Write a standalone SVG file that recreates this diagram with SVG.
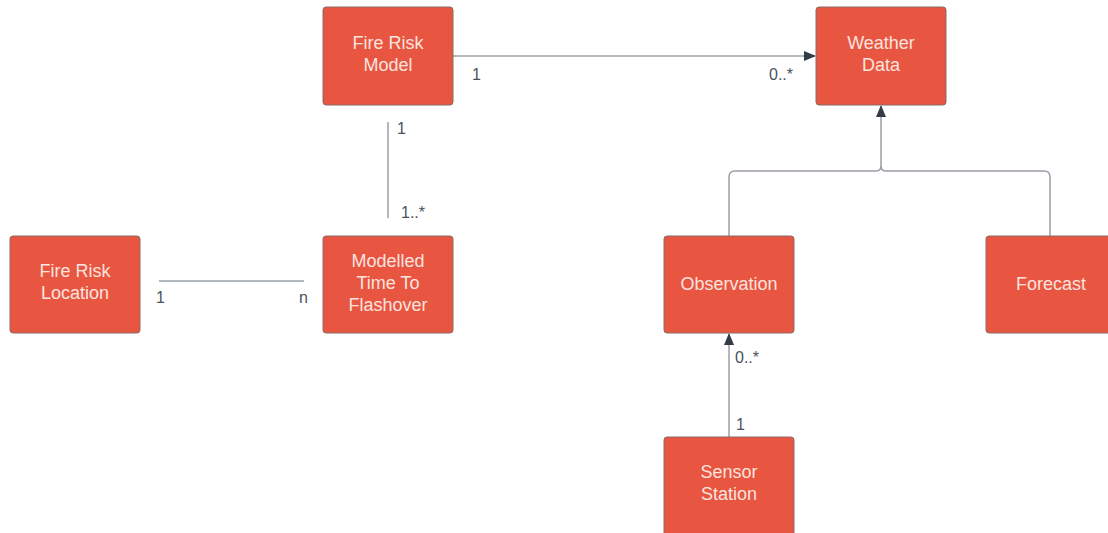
<svg xmlns="http://www.w3.org/2000/svg" width="1108" height="533" viewBox="0 0 1108 533">
<style>
.box{fill:#e85642;stroke:#8a6a66;stroke-width:1}
.t{font-family:"Liberation Sans",Arial,sans-serif;font-size:18px;fill:#fbe3df;text-anchor:middle}
.l{font-family:"Liberation Sans",Arial,sans-serif;font-size:16px;fill:#4a5260}
.c{fill:none;stroke:#9aa0a8;stroke-width:1.5}
</style>
<defs>
<marker id="arr" markerWidth="12" markerHeight="10" refX="11" refY="5" orient="auto" markerUnits="userSpaceOnUse">
<path d="M0,0 L12,5 L0,10 Z" fill="#333b47"/>
</marker>
</defs>
<rect width="1108" height="533" fill="#fff"/>
<g id="connectors">
<path class="c" d="M453,56 H815" marker-end="url(#arr)"/>
<path class="c" d="M388,122 V218"/>
<path class="c" d="M159,281 H304"/>
<path class="c" d="M729,236 V177 Q729,171 735,171 H876 Q881,171 881,166 V106" marker-end="url(#arr)"/>
<path class="c" d="M1050,236 V177 Q1050,171 1044,171 H886 Q881,171 881,166"/>
<path class="c" d="M729,437 V334" marker-end="url(#arr)"/>
<text class="l" x="472" y="80">1</text>
<text class="l" x="769" y="80">0..*</text>
<text class="l" x="397" y="134">1</text>
<text class="l" x="401" y="218">1..*</text>
<text class="l" x="156" y="303">1</text>
<text class="l" x="299" y="303">n</text>
<text class="l" x="735" y="363">0..*</text>
<text class="l" x="736" y="430">1</text>
</g>
<g id="fire-risk-model"><rect class="box" x="323" y="7" width="130" height="98" rx="3"/><text class="t" x="388" y="49">Fire Risk</text><text class="t" x="388" y="71">Model</text></g>
<g id="weather-data"><rect class="box" x="816" y="7" width="130" height="98" rx="3"/><text class="t" x="881" y="49">Weather</text><text class="t" x="881" y="71">Data</text></g>
<g id="fire-risk-location"><rect class="box" x="10" y="236" width="130" height="97" rx="3"/><text class="t" x="75" y="277">Fire Risk</text><text class="t" x="75" y="299">Location</text></g>
<g id="modelled-time"><rect class="box" x="323" y="236" width="130" height="97" rx="3"/><text class="t" x="388" y="267">Modelled</text><text class="t" x="388" y="289">Time To</text><text class="t" x="388" y="311">Flashover</text></g>
<g id="observation"><rect class="box" x="664" y="236" width="130" height="97" rx="3"/><text class="t" x="729" y="290">Observation</text></g>
<g id="forecast"><rect class="box" x="986" y="236" width="130" height="97" rx="3"/><text class="t" x="1051" y="290">Forecast</text></g>
<g id="sensor-station"><rect class="box" x="664" y="437" width="130" height="100" rx="3"/><text class="t" x="729" y="478">Sensor</text><text class="t" x="729" y="500">Station</text></g>
</svg>
